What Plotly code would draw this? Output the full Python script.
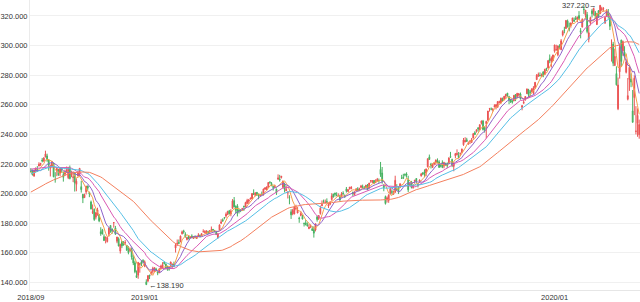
import pandas as pd
import plotly.graph_objects as go

# ---------------- data ----------------
market_holidays = ["2018-11-22", "2018-12-05", "2018-12-25", "2019-01-01", "2019-01-21",
                   "2019-02-18", "2019-04-19", "2019-05-27", "2019-07-04", "2019-09-02",
                   "2019-11-28", "2019-12-25", "2020-01-01", "2020-01-20", "2020-02-17"]
first_day = "2018-09-20"
last_day = "2020-03-18"

# closes of the 61 sessions before the first visible candle (feed the moving averages)
warmup_close = [
    178.0, 180.2, 180.0, 181.2, 180.8, 182.9, 179.7, 181.1, 183.6, 186.2,
    186.0, 183.6, 186.6, 186.9, 186.5, 187.0, 186.0, 187.5, 187.0, 187.2,
    188.6, 190.3, 189.7, 186.6, 185.5, 185.9, 196.9, 202.6, 203.2, 204.3,
    202.3, 202.5, 204.1, 202.7, 204.1, 204.9, 205.4, 208.4, 212.6, 210.5,
    210.1, 210.1, 210.5, 211.2, 212.9, 214.6, 217.9, 219.8, 222.4, 223.1,
    221.7, 218.0, 216.2, 213.3, 218.7, 216.0, 221.2, 218.7, 212.9, 213.2,
    213.4]

open_ = [
    # 2018-09
    215.1, 215.7, 211.8, 214.7, 215.9, 218.7, 219.6,
    # 2018-10
    222.7, 222.0, 224.8, 225.5, 222.7, 217.1, 218.5, 220.3, 209.6, 215.3, 216.1, 213.9,
    217.2, 212.9, 213.1, 214.7, 210.8, 217.5, 212.7, 210.9, 214.2, 206.3, 211.9,
    # 2018-11
    214.0, 204.7, 199.6, 197.3, 201.2, 205.2, 200.8, 194.4, 187.2, 189.4, 184.1, 186.1,
    185.6, 174.3, 175.6, 170.9, 170.2, 167.6, 172.6, 178.5, 176.2,
    # 2018-12
    180.3, 176.8, 167.8, 169.5, 161.2, 167.7, 166.5, 166.6, 165.1, 161.6, 161.6, 162.2,
    156.7, 153.3, 144.7, 144.9, 152.2, 153.9, 154.9,
    # 2019-01
    151.0, 140.4, 140.9, 145.0, 145.9, 147.5, 148.7, 149.1, 147.1, 146.5, 149.3, 150.3,
    153.6, 152.5, 150.3, 150.2, 151.6, 151.9, 152.3, 163.3, 166.1,
    # 2019-02
    167.0, 167.4, 172.9, 174.7, 172.4, 169.0, 171.1, 170.1, 171.4, 169.7, 171.3, 169.7,
    171.2, 171.8, 171.6, 174.2, 173.7, 173.2, 174.3,
    # 2019-03
    174.3, 175.7, 175.9, 174.7, 173.9, 170.3, 175.5, 180.0, 182.3, 183.9, 184.9, 185.8,
    188.4, 186.2, 190.0, 195.3, 191.5, 191.7, 188.8, 189.0, 189.8,
    # 2019-04
    191.6, 191.1, 193.3, 194.8, 196.5, 196.4, 200.3, 198.7, 200.9, 199.2, 198.6, 199.5,
    199.5, 203.1, 202.8, 204.4, 207.4, 206.8, 204.9, 204.4, 203.1,
    # 2019-05
    209.9, 209.8, 210.9, 204.3, 205.9, 201.9, 200.4, 197.4, 187.7, 186.4, 186.3, 189.9,
    186.9, 183.5, 185.2, 184.7, 179.8, 180.2, 178.9, 176.4, 178.0, 176.2,
    # 2019-06
    175.6, 175.4, 184.3, 183.1, 186.5, 191.8, 194.9, 194.0, 194.7, 191.6, 192.9, 196.1,
    199.7, 200.4, 198.8, 198.5, 198.4, 197.8, 200.3, 198.7,
    # 2019-07
    203.2, 201.4, 203.3, 203.4, 200.8, 199.2, 201.9, 203.3, 202.5, 204.1, 204.6, 204.1,
    204.0, 205.8, 203.7, 208.5, 207.7, 208.9, 207.5, 208.5, 208.8, 216.4,
    # 2019-08
    213.9, 205.5, 198.0, 196.3, 195.4, 200.2, 201.3, 199.6, 201.0, 203.2, 203.5, 204.3,
    210.6, 210.9, 213.0, 213.2, 209.4, 205.9, 207.9, 204.1, 208.5, 210.2,
    # 2019-09
    206.4, 208.4, 212.0, 214.1, 214.8, 213.9, 218.1, 224.8, 220.0, 217.7, 220.0, 221.1,
    222.0, 221.4, 219.0, 221.0, 218.6, 220.0, 220.5, 220.9,
    # 2019-10
    225.1, 223.1, 218.4, 225.6, 226.3, 225.8, 227.0, 227.9, 233.0, 234.9, 236.4, 233.4,
    235.1, 234.6, 237.5, 241.2, 242.1, 244.5, 243.2, 247.4, 249.0, 244.8, 247.2,
    # 2019-11
    249.5, 257.3, 257.1, 256.8, 258.7, 258.7, 258.3, 261.6, 261.1, 263.8, 263.7, 265.8,
    267.9, 265.5, 263.7, 262.6, 262.7, 266.9, 265.6, 266.6,
    # 2019-12
    267.3, 258.3, 261.1, 263.8, 267.5, 270.0, 268.6, 268.8, 267.8, 271.5, 277.0, 279.6,
    279.8, 279.5, 282.2, 280.5, 284.7, 284.8, 291.1, 289.5, 289.9,
    # 2020-01
    296.2, 297.2, 293.8, 299.8, 297.2, 307.2, 310.6, 311.6, 316.7, 311.9, 313.6, 316.3,
    317.2, 318.6, 317.9, 320.3, 310.1, 312.6, 324.5, 320.5, 320.9,
    # 2020-02
    304.3, 315.3, 323.5, 322.6, 322.4, 314.2, 323.6, 321.5, 324.2, 324.7, 315.4, 320.0,
    322.6, 318.6, 297.3, 301.0, 286.5, 281.1, 257.3,
    # 2020-03
    282.3, 303.7, 296.4, 295.5, 282.0, 263.8, 277.1, 277.4, 255.9, 264.9, 242.0, 247.5,
    239.8]

high = [
    # 2018-09
    217.2, 216.3, 216.2, 217.7, 218.6, 221.2, 220.6,
    # 2018-10
    224.1, 224.7, 229.0, 227.0, 223.1, 219.6, 222.1, 221.1, 214.5, 217.8, 216.7, 217.9,
    217.5, 214.7, 216.2, 218.3, 218.1, 219.0, 215.5, 215.1, 214.7, 210.3, 215.4,
    # 2018-11
    217.3, 208.7, 199.7, 200.0, 205.2, 205.3, 201.3, 195.3, 192.7, 190.0, 187.6, 190.5,
    186.3, 177.3, 176.2, 172.5, 170.9, 170.8, 177.1, 178.6, 176.2,
    # 2018-12
    180.7, 178.2, 170.8, 170.5, 166.2, 167.8, 167.9, 168.6, 165.2, 164.5, 163.6, 163.6,
    158.4, 154.6, 148.1, 153.6, 153.2, 154.9, 155.7,
    # 2019-01
    154.9, 142.1, 144.8, 145.1, 148.0, 150.6, 150.1, 149.9, 147.5, 149.6, 152.0, 153.7,
    153.9, 152.8, 151.2, 150.6, 154.1, 152.4, 154.1, 166.2, 169.0,
    # 2019-02
    169.0, 171.7, 175.1, 175.6, 173.9, 170.7, 171.2, 171.0, 172.5, 171.3, 171.7, 171.4,
    173.3, 172.4, 173.0, 175.9, 175.3, 175.0, 174.9,
    # 2019-03
    175.2, 177.8, 176.0, 175.5, 174.4, 173.1, 179.1, 182.7, 183.3, 184.1, 187.3, 188.4,
    189.0, 189.5, 196.3, 197.7, 192.0, 192.9, 189.8, 189.6, 190.1,
    # 2019-04
    191.7, 194.5, 196.5, 196.4, 197.1, 200.2, 202.9, 200.7, 201.0, 200.1, 199.9, 201.4,
    203.4, 204.2, 204.9, 207.8, 208.5, 207.8, 205.0, 206.0, 203.4,
    # 2019-05
    213.0, 212.7, 211.8, 208.8, 207.4, 205.3, 201.7, 198.9, 189.5, 189.7, 191.8, 192.5,
    190.9, 184.4, 188.0, 185.7, 180.5, 182.1, 180.6, 179.4, 179.2, 178.0,
    # 2019-06
    177.9, 179.8, 185.0, 185.5, 191.9, 195.4, 196.0, 196.0, 196.8, 193.6, 195.0, 200.3,
    199.9, 200.6, 200.9, 200.2, 199.3, 201.0, 201.6, 199.5,
    # 2019-07
    204.5, 203.1, 204.4, 205.1, 201.4, 201.5, 203.7, 204.4, 204.0, 205.9, 206.1, 205.1,
    205.9, 206.5, 207.2, 208.9, 209.2, 209.2, 209.7, 210.6, 210.2, 221.4,
    # 2019-08
    218.0, 206.4, 198.7, 198.1, 199.6, 203.5, 202.8, 202.1, 212.1, 206.4, 205.1, 207.2,
    212.7, 213.4, 213.7, 214.4, 212.1, 207.2, 208.6, 205.7, 209.3, 210.5,
    # 2019-09
    207.0, 209.5, 214.0, 214.4, 216.4, 216.8, 223.7, 226.4, 220.8, 220.1, 220.8, 222.9,
    223.8, 222.6, 219.8, 222.5, 221.5, 220.9, 221.0, 224.6,
    # 2019-10
    228.2, 223.6, 221.0, 227.5, 229.9, 228.1, 227.8, 230.4, 237.6, 238.1, 237.7, 235.2,
    236.2, 237.6, 241.0, 242.2, 243.2, 244.8, 246.7, 249.3, 249.8, 245.3, 249.2,
    # 2019-11
    255.9, 257.9, 258.2, 257.5, 260.4, 260.4, 262.5, 262.8, 264.8, 264.9, 265.8, 267.4,
    268.0, 266.1, 264.0, 263.2, 266.4, 267.2, 268.0, 268.0,
    # 2019-12
    268.3, 259.5, 263.3, 265.9, 271.0, 270.8, 270.1, 271.1, 272.6, 275.3, 280.8, 281.8,
    281.9, 281.2, 282.7, 284.3, 284.9, 290.0, 294.0, 292.7, 293.7,
    # 2020-01
    300.6, 300.6, 300.0, 300.9, 304.4, 310.4, 312.7, 317.1, 317.6, 315.5, 315.7, 318.7,
    319.0, 320.0, 319.6, 323.3, 311.8, 318.4, 326.9, 324.1, 322.7,
    # 2020-02
    313.5, 319.6, 324.8, 325.2, 323.4, 321.6, 323.9, 327.22, 326.2, 326.0, 319.8, 324.6,
    324.7, 320.5, 304.2, 302.5, 297.9, 286.0, 278.4,
    # 2020-03
    301.4, 304.0, 303.4, 299.6, 290.8, 278.1, 286.4, 281.2, 270.0, 279.9, 259.1, 257.6,
    250.0]

low = [
    # 2018-09
    214.2, 212.3, 211.6, 214.6, 214.7, 218.4, 218.8,
    # 2018-10
    221.1, 221.4, 224.5, 221.5, 215.5, 211.6, 217.3, 211.1, 207.4, 211.8, 212.3, 211.8,
    214.3, 208.1, 212.0, 213.9, 209.8, 209.6, 211.1, 207.8, 201.4, 201.6, 211.6,
    # 2018-11
    211.8, 200.7, 193.6, 197.1, 199.4, 202.0, 197.6, 189.3, 186.2, 181.6, 182.6, 185.1,
    180.7, 171.5, 172.5, 168.1, 166.4, 167.0, 170.9, 173.6, 172.9,
    # 2018-12
    177.0, 172.2, 166.5, 164.4, 159.5, 163.2, 165.1, 165.4, 161.5, 159.0, 160.6, 155.4,
    151.7, 146.2, 143.2, 142.5, 146.6, 151.0, 152.9,
    # 2019-01
    150.3, 138.19, 140.2, 142.3, 144.8, 145.9, 147.1, 147.7, 144.9, 146.3, 149.2, 149.5,
    152.1, 148.8, 147.9, 147.9, 150.4, 149.9, 150.3, 160.2, 164.6,
    # 2019-02
    165.9, 167.3, 172.4, 172.9, 170.3, 168.4, 169.3, 169.7, 169.9, 169.4, 169.8, 169.5,
    171.0, 170.3, 171.4, 174.0, 173.2, 172.7, 172.9,
    # 2019-03
    172.9, 174.0, 174.5, 173.9, 172.0, 169.5, 175.4, 179.4, 180.9, 182.6, 183.7, 185.8,
    185.9, 184.7, 189.8, 190.8, 186.6, 184.6, 186.6, 187.5, 188.5,
    # 2019-04
    188.4, 191.1, 193.2, 193.1, 195.9, 196.3, 199.2, 198.2, 198.4, 196.2, 198.0, 198.6,
    198.6, 202.5, 202.3, 203.9, 207.1, 205.1, 202.1, 203.9, 199.1,
    # 2019-05
    209.2, 208.1, 210.2, 203.5, 200.8, 201.8, 196.7, 192.8, 182.9, 185.4, 186.0, 188.8,
    186.8, 180.3, 184.7, 182.6, 177.8, 178.6, 177.9, 176.0, 176.7, 175.0,
    # 2019-06
    170.3, 174.5, 181.1, 182.2, 185.8, 191.6, 193.6, 193.4, 193.6, 190.3, 192.2, 195.2,
    197.3, 198.0, 198.2, 198.2, 195.3, 197.4, 199.6, 197.1,
    # 2019-07
    200.7, 201.4, 202.7, 202.9, 198.4, 198.8, 201.6, 201.7, 202.2, 204.0, 203.5, 203.3,
    203.7, 202.4, 203.6, 207.3, 207.2, 206.7, 207.1, 208.4, 207.3, 211.3,
    # 2019-08
    206.7, 201.6, 192.6, 194.0, 193.8, 199.4, 199.3, 199.2, 200.5, 202.6, 199.7, 203.8,
    210.0, 210.3, 211.6, 210.8, 201.0, 205.1, 203.5, 203.3, 206.7, 207.2,
    # 2019-09
    204.2, 207.3, 211.5, 212.5, 211.1, 211.7, 217.7, 222.9, 217.0, 217.6, 219.1, 219.4,
    220.4, 217.5, 217.7, 217.2, 217.1, 218.8, 217.3, 220.8,
    # 2019-10
    224.2, 217.9, 215.1, 223.9, 225.8, 224.3, 225.6, 227.3, 232.3, 234.7, 234.9, 233.2,
    233.5, 234.3, 237.3, 239.6, 241.2, 241.8, 242.9, 246.7, 242.6, 241.2, 237.3,
    # 2019-11
    249.2, 255.4, 256.3, 255.4, 258.1, 256.9, 258.3, 260.9, 261.1, 262.1, 263.0, 264.2,
    265.4, 260.4, 261.2, 260.8, 262.5, 262.5, 265.3, 265.9,
    # 2019-12
    263.5, 256.3, 260.7, 262.7, 267.3, 264.9, 265.9, 268.5, 267.3, 270.9, 277.0, 278.8,
    279.1, 279.0, 278.6, 280.4, 282.9, 284.7, 288.1, 285.2, 289.5,
    # 2020-01
    295.2, 296.5, 292.8, 297.5, 297.2, 306.2, 308.3, 311.2, 312.2, 309.6, 312.1, 315.0,
    316.0, 317.3, 315.7, 317.5, 304.9, 312.2, 321.4, 318.8, 308.3,
    # 2020-02
    302.2, 313.6, 319.0, 320.3, 318.0, 313.9, 318.7, 321.5, 323.4, 322.9, 314.6, 320.0,
    318.2, 310.5, 289.2, 286.1, 286.5, 273.0, 256.4,
    # 2020-03
    277.7, 285.8, 293.1, 291.4, 281.2, 263.0, 269.4, 271.9, 248.0, 253.0, 240.0, 238.4,
    237.1]

close = [
    # 2018-09
    215.0, 212.7, 215.7, 217.1, 215.3, 219.8, 220.5,
    # 2018-10
    222.1, 224.0, 226.8, 222.7, 219.1, 218.7, 221.7, 211.4, 209.5, 217.0, 212.4, 217.0,
    216.1, 211.0, 214.3, 215.6, 217.6, 210.2, 214.7, 211.3, 207.3, 208.4, 213.9,
    # 2018-11
    217.1, 202.7, 197.0, 199.1, 205.1, 203.7, 199.8, 189.7, 187.8, 182.5, 187.0, 189.1,
    181.6, 172.9, 172.7, 168.3, 170.6, 170.2, 176.7, 175.4, 174.5,
    # 2018-12
    180.5, 172.6, 170.7, 164.6, 165.7, 164.7, 165.2, 167.0, 161.7, 160.1, 162.3, 157.2,
    153.2, 147.2, 143.4, 153.6, 152.6, 152.6, 154.1,
    # 2019-01
    154.0, 138.6, 144.6, 144.2, 147.0, 149.5, 150.0, 148.5, 146.3, 149.2, 151.1, 152.0,
    152.9, 149.5, 150.1, 148.9, 153.8, 152.4, 150.8, 165.3, 166.4,
    # 2019-02
    166.5, 171.3, 174.2, 174.2, 170.9, 170.4, 169.4, 170.9, 170.2, 170.8, 170.4, 170.9,
    172.0, 171.1, 173.0, 174.2, 174.3, 174.9, 173.2,
    # 2019-03
    175.0, 175.9, 175.5, 174.5, 172.5, 172.9, 178.9, 180.9, 181.7, 183.7, 186.1, 188.0,
    186.5, 188.2, 195.1, 191.1, 188.7, 186.8, 188.5, 188.7, 190.0,
    # 2019-04
    191.2, 194.0, 195.4, 195.7, 197.0, 200.1, 199.5, 200.6, 199.0, 198.9, 199.2, 199.3,
    203.1, 203.9, 204.5, 207.5, 207.2, 205.3, 204.3, 204.6, 200.7,
    # 2019-05
    210.5, 209.2, 211.8, 208.5, 202.9, 202.9, 200.7, 197.2, 185.7, 188.7, 190.9, 190.1,
    189.0, 183.1, 186.6, 182.8, 179.7, 179.0, 178.2, 177.4, 178.3, 175.1,
    # 2019-06
    173.3, 179.6, 182.5, 185.2, 190.2, 192.6, 194.8, 194.2, 194.2, 192.7, 193.9, 198.5,
    197.9, 199.5, 198.8, 198.6, 195.6, 199.8, 199.7, 197.9,
    # 2019-07
    201.6, 202.7, 204.4, 204.2, 200.0, 201.2, 203.2, 201.8, 203.3, 205.2, 204.5, 203.4,
    205.7, 202.6, 207.2, 208.8, 208.7, 207.0, 207.7, 209.7, 208.8, 213.0,
    # 2019-08
    208.4, 204.0, 193.3, 197.0, 199.0, 203.4, 201.0, 200.5, 209.0, 202.8, 201.7, 206.5,
    210.4, 210.4, 212.6, 212.5, 202.6, 206.5, 204.2, 205.5, 209.0, 208.7,
    # 2019-09
    205.7, 209.2, 213.3, 213.3, 214.2, 216.7, 223.6, 223.1, 218.8, 219.9, 220.7, 222.8,
    221.0, 217.7, 218.7, 217.7, 221.0, 219.9, 218.8, 224.0,
    # 2019-10
    224.6, 219.0, 220.8, 227.0, 227.1, 224.4, 227.0, 230.1, 236.2, 235.9, 235.3, 234.4,
    235.3, 236.4, 240.5, 240.0, 243.2, 243.6, 246.6, 249.1, 243.3, 243.3, 248.8,
    # 2019-11
    255.8, 257.5, 257.1, 257.2, 259.4, 260.1, 262.2, 262.0, 264.5, 262.6, 265.8, 267.1,
    266.3, 263.2, 262.0, 261.8, 266.4, 264.3, 267.8, 267.3,
    # 2019-12
    264.2, 259.5, 261.7, 265.6, 270.7, 266.9, 268.5, 270.8, 271.5, 275.2, 279.9, 280.4,
    279.7, 280.0, 279.4, 284.0, 284.3, 289.9, 289.8, 291.5, 293.7,
    # 2020-01
    300.4, 297.4, 299.8, 298.4, 303.2, 309.6, 310.3, 317.0, 312.7, 311.3, 315.2, 318.7,
    316.6, 317.7, 319.2, 318.3, 309.0, 317.7, 324.3, 323.9, 309.5,
    # 2020-02
    308.7, 318.9, 321.5, 325.2, 320.0, 321.6, 319.6, 327.2, 324.9, 325.0, 319.0, 323.6,
    320.3, 313.1, 298.2, 288.1, 292.7, 273.5, 273.4,
    # 2020-03
    298.8, 289.3, 302.7, 292.9, 289.0, 266.2, 285.3, 275.4, 248.2, 278.0, 242.2, 252.9,
    246.7]

ma_periods = [5, 10, 20, 30, 60]
ma_colors = ["#F5A04A", "#8E62C9", "#DA5AB4", "#55BFE6", "#F4805E"]

x_tick_dates = ["2018-09-20", "2019-01-02", "2020-01-02"]
x_tick_labels = ["2018/09", "2019/01", "2020/01"]
y_ticks = [140, 160, 180, 200, 220, 240, 260, 280, 300, 320]

up_color = "#EB5454"
down_color = "#47B262"
text_color = "#333333"
font_family = "Liberation Sans, Arial, sans-serif"

# ---------------- figure ----------------
dates = pd.bdate_range(first_day, last_day, freq="C",
                       holidays=market_holidays).strftime("%Y-%m-%d").tolist()
n = len(dates)
assert n == len(open_) == len(high) == len(low) == len(close), (n, len(open_), len(high), len(low), len(close))

fig = go.Figure()
fig.add_trace(go.Candlestick(
    x=dates, open=open_, high=high, low=low, close=close,
    increasing=dict(line=dict(color=up_color, width=1), fillcolor=up_color),
    decreasing=dict(line=dict(color=down_color, width=1), fillcolor=down_color),
    whiskerwidth=0, hoverinfo="skip", name="K"))

all_close = pd.Series(warmup_close + close)
for p, col in zip(ma_periods, ma_colors):
    ma = all_close.rolling(p).mean().iloc[len(warmup_close):].round(3).tolist()
    fig.add_trace(go.Scatter(x=dates, y=ma, mode="lines", name=f"MA{p}",
                             line=dict(color=col, width=1), hoverinfo="skip"))

hi_i = high.index(max(high))
lo_i = low.index(min(low))
fig.add_annotation(x=dates[hi_i], y=high[hi_i], text=f"{high[hi_i]:.3f}\u2192",
                   showarrow=False, xanchor="right", yanchor="middle", xshift=-1,
                   font=dict(size=7.5, color=text_color, family=font_family))
fig.add_annotation(x=dates[lo_i], y=low[lo_i], text=f"\u2190{low[lo_i]:.3f}",
                   showarrow=False, xanchor="left", yanchor="middle", xshift=1,
                   font=dict(size=7.5, color=text_color, family=font_family))

fig.update_layout(
    width=640, height=302,
    margin=dict(l=27, r=0, t=0, b=12),
    paper_bgcolor="white", plot_bgcolor="white",
    showlegend=False,
    font=dict(family=font_family, size=7.5, color=text_color),
    xaxis=dict(type="category", range=[-0.5, n - 0.5], rangeslider=dict(visible=False),
               tickmode="array", tickvals=x_tick_dates, ticktext=x_tick_labels,
               showgrid=False, showline=True, linecolor="#E6E6E6", linewidth=1,
               ticks="", tickfont=dict(size=7.5, color=text_color), zeroline=False),
    yaxis=dict(range=[134.9, 330.8], tickmode="array", tickvals=y_ticks,
               tickformat=".3f", showgrid=True, gridcolor="#F0F0F0", gridwidth=1,
               showline=True, linecolor="#EBEBEB", linewidth=1, ticks="",
               tickfont=dict(size=7.5, color=text_color), zeroline=False),
)

fig.write_html("out.html")
